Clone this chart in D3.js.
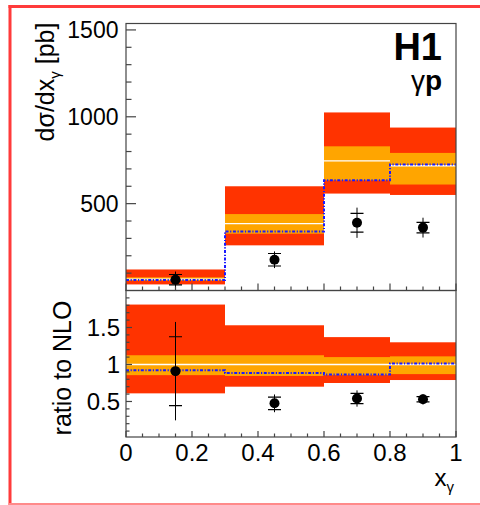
<!DOCTYPE html>
<html>
<head>
<meta charset="utf-8">
<script src="https://cdn.jsdelivr.net/npm/d3@7/dist/d3.min.js"></script>
<style>
  html, body { margin: 0; padding: 0; background: #fff; }
  svg { display: block; }
  text { font-family: "Liberation Sans", Arial, Helvetica, sans-serif; fill: #000; }
</style>
</head>
<body>
<script>
// Bins in x_gamma
const binEdges = [0, 0.3, 0.6, 0.8, 1.0];
const binCentres = [0.15, 0.45, 0.7, 0.9];

// NLO cross section [pb]: central value, inner (orange) and outer (red) bands
const nloCentral = [66, 385, 746, 718];
const nloInnerLo = [56, 327, 634, 610];
const nloInnerHi = [76, 440, 830, 792];
const nloOuterLo = [35, 260, 558, 550];
const nloOuterHi = [121, 600, 1025, 938];
// Alternative prediction (dash-dotted blue)
const altPred = [61, 340, 634, 726];

// Measured cross section [pb]
const dataXs = [62, 177, 390, 362];
const dataStat = [30, 36, 54, 30];
const dataTot = [47, 48, 87, 57];

// Ratio to NLO
const ratInnerLo = [0.856, 0.845, 0.856, 0.87];
const ratInnerHi = [1.125, 1.125, 1.10, 1.11];
const ratOuterLo = [0.61, 0.70, 0.75, 0.79];
const ratOuterHi = [1.81, 1.53, 1.37, 1.30];
const ratAlt = [0.923, 0.885, 0.865, 1.013];
const ratData = [0.91, 0.475, 0.54, 0.53];
const ratStat = [0.465, 0.085, 0.07, 0.035];
const ratTot = [0.665, 0.12, 0.11, 0.07];

// Axis ticks and labels
const xMajor = [0, 0.2, 0.4, 0.6, 0.8, 1];
const xTickLabels = ["0", "0.2", "0.4", "0.6", "0.8", "1"];
const topMajor = [500, 1000, 1500];
const topTickLabels = ["500", "1000", "1500"];
const ratMajor = [0.5, 1, 1.5];
const ratTickLabels = ["0.5", "1", "1.5"];

const W = 480, H = 505;
const svg = d3.select("body").append("svg").attr("width", W).attr("height", H);

const x = d3.scaleLinear().domain([0, 1]).range([126, 456]);
const yTop = d3.scaleLinear().domain([0, 1537]).range([290.5, 23.5]);
const yRat = d3.scaleLinear().domain([0.02, 2.0]).range([437, 290.5]);

const RED = "#ff3300", ORANGE = "#ffa500", BLUE = "#1a1aff", FRAME = "#444";

// outer canvas border
svg.append("line").attr("x1", 10).attr("x2", 10).attr("y1", 5).attr("y2", 505)
  .attr("stroke", "#ff3b3b").attr("stroke-width", 3);
svg.append("line").attr("x1", 8.5).attr("x2", 480).attr("y1", 6.5).attr("y2", 6.5)
  .attr("stroke", "#ff3b3b").attr("stroke-width", 3);
svg.append("line").attr("x1", 8.5).attr("x2", 480).attr("y1", 504).attr("y2", 504)
  .attr("stroke", "#ff8a8a").attr("stroke-width", 2);

const defs = svg.append("defs");
defs.append("clipPath").attr("id", "clipTop").append("rect")
  .attr("x", x(0)).attr("y", yTop.range()[1]).attr("width", x(1) - x(0))
  .attr("height", yTop.range()[0] - yTop.range()[1]);
defs.append("clipPath").attr("id", "clipRat").append("rect")
  .attr("x", x(0)).attr("y", yRat.range()[1]).attr("width", x(1) - x(0))
  .attr("height", yRat.range()[0] - yRat.range()[1]);

function drawPanel(g, y, lo2, hi2, lo1, hi1, central, alt, pts, stat, tot) {
  const bins = d3.range(binCentres.length);
  // outer band
  g.selectAll("rect.outer").data(bins).join("rect").attr("class", "outer")
    .attr("x", i => x(binEdges[i])).attr("width", i => x(binEdges[i + 1]) - x(binEdges[i]))
    .attr("y", i => y(hi2[i])).attr("height", i => y(lo2[i]) - y(hi2[i]))
    .attr("fill", RED);
  // inner band
  g.selectAll("rect.inner").data(bins).join("rect").attr("class", "inner")
    .attr("x", i => x(binEdges[i])).attr("width", i => x(binEdges[i + 1]) - x(binEdges[i]))
    .attr("y", i => y(hi1[i])).attr("height", i => y(lo1[i]) - y(hi1[i]))
    .attr("fill", ORANGE);
  // central value
  g.selectAll("line.central").data(bins).join("line").attr("class", "central")
    .attr("x1", i => x(binEdges[i])).attr("x2", i => x(binEdges[i + 1]))
    .attr("y1", i => y(central[i])).attr("y2", i => y(central[i]))
    .attr("stroke", "#fff").attr("stroke-width", 1.3);
  // alternative prediction as step histogram
  const steps = binEdges.map((e, i) => [e, alt[Math.min(i, alt.length - 1)]]);
  g.append("path").datum(steps)
    .attr("d", d3.line().x(d => x(d[0])).y(d => y(d[1])).curve(d3.curveStepAfter))
    .attr("fill", "none").attr("stroke", BLUE).attr("stroke-width", 2)
    .attr("stroke-dasharray", "3,1.6,1.2,1.6");
  // data points
  const pg = g.selectAll("g.pt").data(bins).join("g").attr("class", "pt");
  pg.append("line")
    .attr("x1", i => x(binCentres[i])).attr("x2", i => x(binCentres[i]))
    .attr("y1", i => y(pts[i] + tot[i])).attr("y2", i => y(pts[i] - tot[i]))
    .attr("stroke", "#000").attr("stroke-width", 1);
  [1, -1].forEach(s => {
    pg.append("line")
      .attr("x1", i => x(binCentres[i]) - 6.5).attr("x2", i => x(binCentres[i]) + 6.5)
      .attr("y1", i => y(pts[i] + s * stat[i])).attr("y2", i => y(pts[i] + s * stat[i]))
      .attr("stroke", "#000").attr("stroke-width", 1.2);
  });
  pg.append("circle").attr("cx", i => x(binCentres[i])).attr("cy", i => y(pts[i]))
    .attr("r", 5).attr("fill", "#000");
}

const gTop = svg.append("g").attr("clip-path", "url(#clipTop)");
drawPanel(gTop, yTop, nloOuterLo, nloOuterHi, nloInnerLo, nloInnerHi, nloCentral, altPred,
  dataXs, dataStat, dataTot);
const gRat = svg.append("g").attr("clip-path", "url(#clipRat)");
drawPanel(gRat, yRat, ratOuterLo, ratOuterHi, ratInnerLo, ratInnerHi, ratOuterLo.map(() => 1), ratAlt,
  ratData, ratStat, ratTot);

// frames
function frame(y) {
  svg.append("rect").attr("x", x(0)).attr("y", y.range()[1])
    .attr("width", x(1) - x(0)).attr("height", y.range()[0] - y.range()[1])
    .attr("fill", "none").attr("stroke", FRAME).attr("stroke-width", 1.2);
}
frame(yTop);
frame(yRat);

// x axes (ticks pointing into the frame)
function xTicks(y0, majLen, minLen) {
  const minors = d3.range(0, 1.0001, 0.05);
  const g = svg.append("g");
  g.selectAll("line").data(minors).join("line")
    .attr("x1", d => x(d)).attr("x2", d => x(d))
    .attr("y1", y0)
    .attr("y2", d => y0 - (xMajor.some(m => Math.abs(m - d) < 1e-6) ? majLen : minLen))
    .attr("stroke", FRAME).attr("stroke-width", 1.2);
}
xTicks(yTop.range()[0], 7, 4);
xTicks(yRat.range()[0], 6, 3.5);

svg.append("g").selectAll("text").data(xMajor).join("text")
  .attr("x", d => x(d)).attr("y", 460.5).attr("text-anchor", "middle")
  .attr("font-size", 24).text((d, i) => xTickLabels[i]);

// y axes
function yTicks(y, minors, majors, majLen, minLen) {
  svg.append("g").selectAll("line").data(minors).join("line")
    .attr("x1", x(0))
    .attr("x2", d => x(0) + (majors.some(m => Math.abs(m - d) < 1e-6) ? majLen : minLen))
    .attr("y1", d => y(d)).attr("y2", d => y(d))
    .attr("stroke", FRAME).attr("stroke-width", 1.2);
}
yTicks(yTop, d3.range(100, 1501, 100), topMajor, 10, 5.5);
yTicks(yRat, d3.range(0.1, 1.95, 0.1), ratMajor, 6, 3.5);

svg.append("g").selectAll("text").data(topMajor).join("text")
  .attr("x", 118.5).attr("y", d => yTop(d)).attr("dy", "0.36em").attr("text-anchor", "end")
  .attr("font-size", 23).text((d, i) => topTickLabels[i]);
svg.append("g").selectAll("text").data(ratMajor).join("text")
  .attr("x", 120).attr("y", d => yRat(d)).attr("dy", "0.36em").attr("text-anchor", "end")
  .attr("font-size", 24).text((d, i) => ratTickLabels[i]);

// axis titles
const yt = svg.append("text").attr("transform", "translate(54,82) rotate(-90)")
  .attr("text-anchor", "middle").attr("font-size", 25);
yt.append("tspan").text("dσ/dx");
yt.append("tspan").attr("font-size", 15).attr("dy", 6).text("γ");
yt.append("tspan").attr("dy", -6).text(" [pb]");

svg.append("text").attr("transform", "translate(71,368) rotate(-90)")
  .attr("text-anchor", "middle").attr("font-size", 25).text("ratio to NLO");

const xt = svg.append("text").attr("x", 454).attr("y", 486).attr("text-anchor", "end")
  .attr("font-size", 24);
xt.append("tspan").text("x");
xt.append("tspan").attr("font-size", 15).attr("dy", 6).text("γ");

// experiment label
svg.append("text").attr("x", 442).attr("y", 60).attr("text-anchor", "end")
  .attr("font-size", 38).attr("font-weight", "bold").text("H1");
const gp = svg.append("text").attr("x", 442).attr("y", 90).attr("text-anchor", "end")
  .attr("font-size", 28);
gp.append("tspan").text("γ");
gp.append("tspan").attr("font-weight", "bold").text("p");
</script>
</body>
</html>
